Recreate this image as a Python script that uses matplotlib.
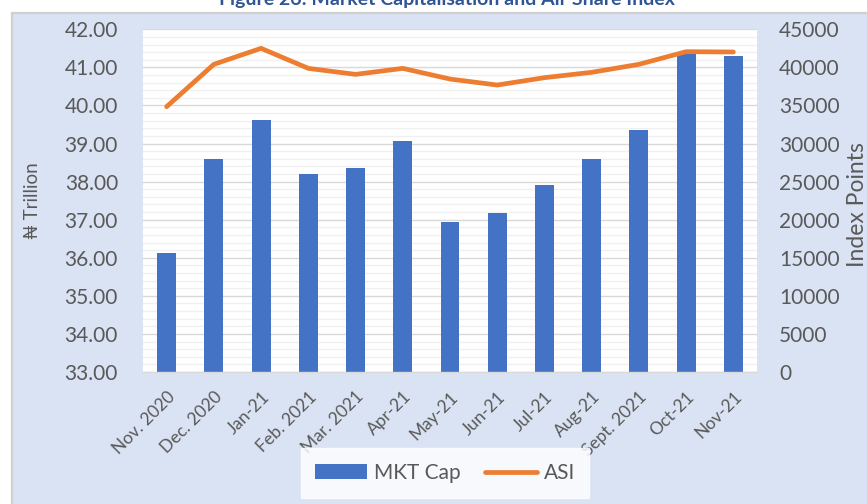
import matplotlib
matplotlib.use("Agg")
import matplotlib.pyplot as plt
from matplotlib.patches import Rectangle
from matplotlib.ticker import MultipleLocator, FormatStrFormatter

months = ["Nov. 2020", "Dec. 2020", "Jan-21", "Feb. 2021", "Mar. 2021", "Apr-21",
          "May-21", "Jun-21", "Jul-21", "Aug-21", "Sept. 2021", "Oct-21", "Nov-21"]
mkt_cap = [36.12, 38.59, 39.62, 38.19, 38.35, 39.06, 36.93, 37.17, 37.91, 38.59, 39.36, 41.34, 41.31]
asi = [34840, 40400, 42500, 39870, 39080, 39870, 38470, 37680, 38650, 39350, 40400, 42060, 42020]

FONT = ["Lato", "DejaVu Sans"]
plt.rcParams["font.family"] = FONT
GREY = "#595959"
BLUE = "#4472C4"
ORANGE = "#ED7D31"
PANEL = "#DAE3F3"

W, H = 867, 504
fig = plt.figure(figsize=(W / 100, H / 100), dpi=100)
fig.patch.set_facecolor("white")

# panel background
fig.patches.append(Rectangle((12 / W, -0.05), 1.1, 1 - 13 / H + 0.05,
                             transform=fig.transFigure, facecolor=PANEL,
                             edgecolor="#D0D0D0", linewidth=1.6, zorder=-10))

fig.text(447 / W, 1 - 5 / H, "Figure 26: Market Capitalisation and All-Share Index",
         ha="center", va="baseline", fontsize=14, fontweight="bold", color="#2F5597")

ax = fig.add_axes([143 / W, 1 - 372 / H, (757 - 143) / W, (372 - 29.3) / H])
ax.set_facecolor("white")
x = list(range(len(months)))
bars = ax.bar(x, mkt_cap, width=0.40, color=BLUE, label="MKT Cap", zorder=2)
ax.set_ylim(33, 42)
ax.set_xlim(-0.5, len(months) - 0.5)
ax.yaxis.set_major_locator(MultipleLocator(1))
ax.yaxis.set_minor_locator(MultipleLocator(0.2))
ax.yaxis.set_major_formatter(FormatStrFormatter("%.2f"))
ax.grid(axis="y", which="major", color="#D9D9D9", linewidth=1.0, zorder=0)
ax.grid(axis="y", which="minor", color="#F0F0F0", linewidth=1.0, zorder=0)
ax.set_axisbelow(True)
for s in ["top", "left", "right"]:
    ax.spines[s].set_visible(False)
ax.spines["bottom"].set_color("#D9D9D9")
ax.spines["bottom"].set_linewidth(1.0)
ax.tick_params(axis="y", which="both", length=0, pad=18, labelsize=15, labelcolor=GREY)
ax.set_xticks(x)
ax.set_xticklabels(months, rotation=45, ha="right", rotation_mode="anchor")
ax.tick_params(axis="x", length=0, pad=12, labelsize=12.5, labelcolor=GREY)
ax.set_ylabel("₦ Trillion", fontsize=13.5, color=GREY, va="center")
ax.yaxis.set_label_coords(-(143 - 32) / (757 - 143), (372 - 201) / (372 - 29.3))

ax2 = ax.twinx()
line, = ax2.plot(x, asi, color=ORANGE, linewidth=3.4, solid_capstyle="round",
                 solid_joinstyle="round", label="ASI", zorder=3)
ax2.set_ylim(0, 45000)
ax2.yaxis.set_major_locator(MultipleLocator(5000))
for s in ["top", "left", "right", "bottom"]:
    ax2.spines[s].set_visible(False)
ax2.tick_params(axis="y", length=0, pad=16, labelsize=15, labelcolor=GREY)
ax2.set_ylabel("Index Points", fontsize=16.5, color=GREY, rotation=90, va="center")
ax2.yaxis.set_label_coords((857 - 143) / (757 - 143), (372 - 205) / (372 - 29.3))

leg = fig.legend([bars, line], ["MKT Cap", "ASI"], loc="center",
                 bbox_to_anchor=(445 / W, 1 - 473 / H), ncol=2, fontsize=15,
                 frameon=True, fancybox=False, handlelength=2.5, handleheight=0.7,
                 columnspacing=1.2, handletextpad=0.3, borderpad=0.7,
                 labelcolor=GREY)
leg.get_frame().set_facecolor("white")
leg.get_frame().set_edgecolor("white")

fig.savefig("out.png", dpi=100, facecolor=fig.get_facecolor())
